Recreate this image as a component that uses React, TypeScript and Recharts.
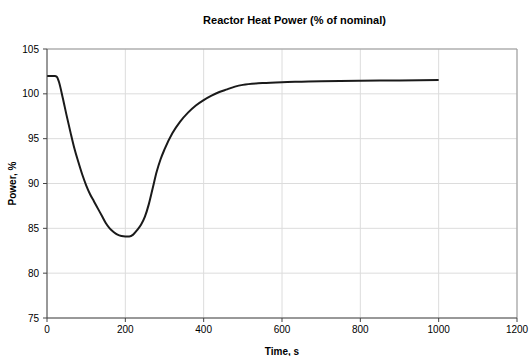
import React from 'react';
import { LineChart, Line, XAxis, YAxis, CartesianGrid, ReferenceLine } from 'recharts';

// reactor transient: time (s) vs heat power (% of nominal)
const timeS = [
  0, 10, 20, 25, 30, 40, 50, 60, 70, 80, 90, 100, 110, 120, 130, 140, 150, 160, 170, 180, 190, 200,
  210, 220, 230, 240, 250, 260, 270, 280, 290, 300, 320, 340, 360, 380, 400, 420, 440, 460, 480, 500,
  550, 600, 650, 700, 800, 900, 1000,
];
const powerPct = [
  102.0, 102.0, 102.0, 101.9, 101.4, 99.6, 97.6, 95.7, 93.9, 92.4, 91.0, 89.8, 88.8, 88.0, 87.2, 86.4,
  85.6, 85.0, 84.6, 84.3, 84.15, 84.1, 84.1, 84.3, 84.8, 85.4, 86.3, 87.7, 89.5, 91.3, 92.7, 93.8, 95.6,
  96.9, 97.9, 98.7, 99.3, 99.8, 100.2, 100.5, 100.8, 101.0, 101.2, 101.3, 101.35, 101.4, 101.45, 101.5,
  101.55,
];
const xTicks = [0, 200, 400, 600, 800, 1000, 1200];
const yTicks = [75, 80, 85, 90, 95, 100, 105];

const data = timeS.map((t, i) => ({ t, p: powerPct[i] }));

const font = 'Arial, "Liberation Sans", sans-serif';
const tickStyle = { fontSize: 10, fill: '#000', fontFamily: font };

export default function App() {
  return (
    <div style={{ position: 'absolute', left: 0, top: 0, width: 529, height: 356, background: '#fff' }}>
      <div
        style={{
          position: 'absolute',
          top: 14,
          left: 0,
          width: 529,
          paddingLeft: 60,
          boxSizing: 'border-box',
          textAlign: 'center',
          fontFamily: font,
          fontWeight: 'bold',
          fontSize: 11,
        }}
      >
        Reactor Heat Power (% of nominal)
      </div>
      <LineChart width={529} height={356} data={data} margin={{ top: 49, right: 12, bottom: 0, left: 7 }}>
        <CartesianGrid stroke="#dcdcdc" />
        <XAxis
          dataKey="t"
          type="number"
          domain={[0, 1200]}
          ticks={xTicks}
          tick={tickStyle}
          stroke="#444"
          tickSize={4}
          tickMargin={4}
          height={38}
          label={{ value: 'Time, s', position: 'insideBottom', offset: 1, style: { fontSize: 10, fontWeight: 'bold', fill: '#000', fontFamily: font } }}
        />
        <YAxis
          type="number"
          domain={[75, 105]}
          ticks={yTicks}
          tick={tickStyle}
          stroke="#444"
          tickSize={4}
          tickMargin={4}
          width={40}
          label={{ value: 'Power, %', angle: -90, position: 'insideLeft', offset: 5, style: { textAnchor: 'middle', fontSize: 10, fontWeight: 'bold', fill: '#000', fontFamily: font } }}
        />
        <ReferenceLine y={105} stroke="#999" />
        <ReferenceLine x={1200} stroke="#999" />
        <Line
          type="monotone"
          dataKey="p"
          stroke="#1a1a1a"
          strokeWidth={2}
          dot={false}
          isAnimationActive={false}
        />
      </LineChart>
    </div>
  );
}
